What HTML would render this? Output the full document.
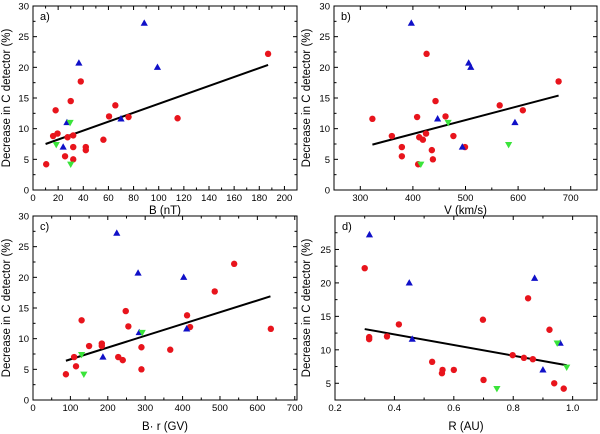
<!DOCTYPE html>
<html><head><meta charset="utf-8"><style>
html,body{margin:0;padding:0;background:#fff}
svg{display:block;font-family:"Liberation Sans",Arial,sans-serif}
</style></head><body>
<svg id="chart" width="600" height="434" viewBox="0 0 600 434" xmlns="http://www.w3.org/2000/svg"></svg>
<script>
// Panel a: B (nT)
const aRed = [[10.5,4.2],[16,8.8],[18,13],[19.5,9.2],[25.5,5.5],[27.5,8.6],[30,14.5],[32,7],[32,5],[32,8.9],[38,17.7],[42,7],[42,6.5],[56,8.2],[60.5,12],[65.5,13.8],[76,11.9],[115,11.7],[187,22.2]];
const aBlue = [[88.5,27.2],[36.5,20.7],[99,20],[27,11],[70,11.6],[24,7]];
const aGreen = [[29.5,11],[18.5,7.4],[30,4.2]];
const aFit = [[10,7.5],[187,20.4]];
// Panel b: V (km/s)
const bRed = [[323,11.6],[360,8.8],[379,7],[379,5.5],[408,11.9],[410,4.2],[412,8.6],[419,8.2],[425,9.2],[426,22.2],[436,6.5],[438,5],[443,14.5],[462,12],[477,8.8],[499,7],[565,13.8],[609,13],[677,17.7]];
const bBlue = [[397,27.2],[506,20.7],[510,20],[447,11.6],[594,11],[494,7]];
const bGreen = [[467,11],[415,4.2],[582,7.4]];
const bFit = [[323,7.4],[677,15.4]];
// Panel c: B·r (GV)
const cRed = [[88,4.2],[110,7],[115,5.5],[130,13],[150,8.8],[184,9.2],[184,8.8],[228,7],[240,6.5],[248,14.5],[255,12],[290,8.6],[290,5],[367,8.2],[412,13.8],[420,11.9],[486,17.7],[538,22.2],[636,11.6]];
const cBlue = [[224,27.2],[281,20.7],[403,20],[284,11],[411,11.6],[187,7]];
const cGreen = [[292,11],[130,7.4],[136,4.2]];
const cFit = [[88,6.4],[635,16.9]];
// Panel d: R (AU)
const dRed = [[0.30,22.2],[0.315,11.9],[0.315,11.6],[0.375,12],[0.415,13.8],[0.527,8.2],[0.56,6.5],[0.562,7],[0.60,7],[0.698,14.5],[0.70,5.5],[0.798,9.2],[0.836,8.8],[0.85,17.7],[0.866,8.6],[0.922,13],[0.938,5],[0.97,4.2]];
const dBlue = [[0.316,27.2],[0.45,20],[0.46,11.6],[0.872,20.7],[0.958,11],[0.90,7]];
const dGreen = [[0.745,4.2],[0.948,11],[0.98,7.4]];
const dFit = [[0.30,13.1],[0.98,7.7]];
// ticks
const aXTicks = [0,20,40,60,80,100,120,140,160,180,200];
const bXTicks = [300,400,500,600,700];
const cXTicks = [0,100,200,300,400,500,600,700];
const dXTicks = [0.2,0.4,0.6,0.8,1.0];
const yTicksFull = [0,5,10,15,20,25,30];
const dYTicks = [5,10,15,20,25];

const NS="http://www.w3.org/2000/svg";
const svg=document.getElementById('chart');
function mk(tag,attrs,parent){const e=document.createElementNS(NS,tag);for(const k in attrs)e.setAttribute(k,attrs[k]);(parent||svg).appendChild(e);return e;}

function panel(cfg){
  const g=mk('g',{});
  
  
  const L=cfg.L,R=cfg.R,T=cfg.T,B=cfg.B;
  const sx=v=>L+(v-cfg.xmin)/(cfg.xmax-cfg.xmin)*(R-L);
  const sy=v=>B-(v-cfg.ymin)/(cfg.ymax-cfg.ymin)*(B-T);
  const frame=mk('rect',{x:L,y:T,width:R-L,height:B-T,fill:'none',stroke:'#000','stroke-width':1},g);
  
  
  // x ticks
  const xs=cfg.xt; const xstep=xs[1]-xs[0];
  for(let v=xs[0]-xstep;v<=cfg.xmax+1e-9;v+=xstep/2){
    if(v<cfg.xmin-1e-9)continue;
    const major=xs.some(t=>Math.abs(t-v)<1e-6);
    const len=major?4:2.5; const x=sx(v);
    mk('line',{x1:x,y1:B,x2:x,y2:B-len,stroke:'#000','stroke-width':1},g);
    mk('line',{x1:x,y1:T,x2:x,y2:T+len,stroke:'#000','stroke-width':1},g);
  }
  xs.forEach(v=>{const t=mk('text',{x:sx(v),y:B+11,'font-size':9.5,'text-anchor':'middle',fill:'#000'},g);t.textContent=cfg.xfmt(v);
    
    });
  // y ticks
  for(let v=0;v<=cfg.ymax+1e-9;v+=2.5){
    if(v<cfg.ymin-1e-9)continue;
    const major=Math.abs(v%5)<1e-6; const len=major?4:2.5; const y=sy(v);
    mk('line',{x1:L,y1:y,x2:L+len,y2:y,stroke:'#000','stroke-width':1},g);
    mk('line',{x1:R,y1:y,x2:R-len,y2:y,stroke:'#000','stroke-width':1},g);
  }
  cfg.yt.forEach(v=>{const t=mk('text',{x:L-4,y:sy(v)+3.5,'font-size':9.5,'text-anchor':'end',fill:'#000'},g);t.textContent=v;
    
    });
  const xt=mk('text',{x:(L+R)/2,y:cfg.xtY,'font-size':11.5,'text-anchor':'middle',fill:'#000'},g);xt.textContent=cfg.xtitle;
  
  
  const cy=(T+B)/2; const yt=mk('text',{x:cfg.ytX,y:cy,'font-size':11.5,'text-anchor':'middle',fill:'#000',transform:`rotate(-90 ${cfg.ytX} ${cy})`},g);yt.textContent='Decrease in C detector (%)';
  
  
  const lab=mk('text',{x:L+7,y:T+14,'font-size':11,fill:'#000'},g);lab.textContent=cfg.id+')';
  
  
  // fit line
  const fl=mk('line',{x1:sx(cfg.fit[0][0]),y1:sy(cfg.fit[0][1]),x2:sx(cfg.fit[1][0]),y2:sy(cfg.fit[1][1]),stroke:'#000','stroke-width':2},g);
  
  
  cfg.red.forEach(p=>{const c=mk('circle',{cx:sx(p[0]),cy:sy(p[1]),r:3.2,fill:'#e8141c'},g);
    
    });
  cfg.blue.forEach(p=>{const x=sx(p[0]),y=sy(p[1]);const t=mk('polygon',{points:`${x},${y-3.8} ${x-3.6},${y+2.6} ${x+3.6},${y+2.6}`,fill:'#1010c8'},g);
    
    });
  cfg.green.forEach(p=>{const x=sx(p[0]),y=sy(p[1]);const t=mk('polygon',{points:`${x},${y+3.8} ${x-3.6},${y-2.6} ${x+3.6},${y-2.6}`,fill:'#3ae43a'},g);
    
    });
}
const intf=v=>String(v);
panel({id:'a',L:33,R:297,T:6,B:190,xmin:0,xmax:210,ymin:0,ymax:30,xt:aXTicks,yt:yTicksFull,xfmt:intf,xtitle:'B (nT)',xtY:214,ytX:10,red:aRed,blue:aBlue,green:aGreen,fit:aFit});
panel({id:'b',L:334,R:597,T:6,B:190,xmin:250,xmax:750,ymin:0,ymax:30,xt:bXTicks,yt:yTicksFull,xfmt:intf,xtitle:'V (km/s)',xtY:214,ytX:310,red:bRed,blue:bBlue,green:bGreen,fit:bFit});
panel({id:'c',L:33,R:297,T:216,B:400,xmin:0,xmax:706,ymin:0,ymax:30,xt:cXTicks,yt:yTicksFull,xfmt:intf,xtitle:'B· r (GV)',xtY:430,ytX:10,red:cRed,blue:cBlue,green:cGreen,fit:cFit});
panel({id:'d',L:335,R:597,T:216,B:400,xmin:0.2,xmax:1.082,ymin:2.5,ymax:30,xt:dXTicks,yt:dYTicks,xfmt:v=>v.toFixed(1),xtitle:'R (AU)',xtY:430,ytX:310,red:dRed,blue:dBlue,green:dGreen,fit:dFit});
</script>
</body></html>
